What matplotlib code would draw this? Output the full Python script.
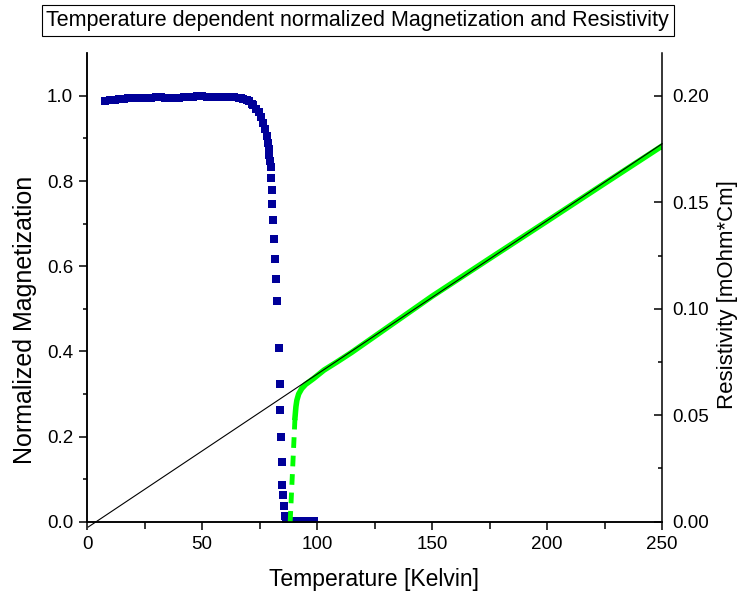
import numpy as np
import matplotlib
matplotlib.use("Agg")
import matplotlib.pyplot as plt

plt.rcParams['font.family'] = ['Liberation Sans', 'DejaVu Sans']

# normalized magnetization vs temperature
temp_mag = [8, 10, 12, 14, 16, 18, 20, 22, 24, 26, 28, 30, 32, 34, 36, 38, 40,
            42, 44, 46, 48, 50, 52, 54, 56, 58, 60, 62, 64, 66,
            67, 68, 69.4, 70.5, 71.5, 72.3, 73.5, 74.8, 75.8, 76.7, 77.5,
            78.1, 78.6, 79.0, 79.3, 79.6, 79.8,
            80.0, 80.3, 80.6, 81.0, 81.4, 81.9, 82.3, 82.7, 83.3, 83.8, 84.0,
            84.3, 84.6, 84.9, 85.2, 85.7, 86.1,
            86.5, 87.5, 88.5, 89.5, 90.5, 91.5, 92.5, 93.5, 94.5, 95.5, 96.5,
            97.5, 98.5]
magnetization = [0.989, 0.990, 0.991, 0.992, 0.993, 0.994, 0.995, 0.996, 0.996,
                 0.995, 0.996, 0.997, 0.997, 0.996, 0.996, 0.995, 0.996, 0.997,
                 0.997, 0.998, 0.999, 0.999, 0.998, 0.998, 0.997, 0.997, 0.998,
                 0.998, 0.997, 0.996,
                 0.995, 0.993, 0.991, 0.987, 0.982, 0.978, 0.970, 0.961, 0.950,
                 0.937, 0.922, 0.906, 0.890, 0.875, 0.862, 0.847, 0.832,
                 0.808, 0.779, 0.745, 0.708, 0.663, 0.616, 0.569, 0.518, 0.408,
                 0.323, 0.263, 0.200, 0.141, 0.086, 0.063, 0.037, 0.013,
                 0.002, 0.002, 0.002, 0.002, 0.002, 0.002, 0.002, 0.002, 0.002,
                 0.002, 0.002, 0.002, 0.002]

# resistivity: superconducting transition and normal state
temp_trans = [88.3, 88.6, 88.9, 89.2, 89.5, 89.8, 90.1, 90.4]
res_trans = [0.000, 0.007, 0.014, 0.021, 0.028, 0.035, 0.042, 0.049]
temp_res = [90.4, 90.8, 91.2, 92.0, 93.3, 95.0, 98.4, 103.0, 108.6, 115.0,
            128.8, 150.0, 175.0, 200.0, 225.0, 250.0]
resistivity = [0.049, 0.054, 0.057, 0.060, 0.0625, 0.0645, 0.0672, 0.0712,
               0.0750, 0.0795, 0.0899, 0.1059, 0.1236, 0.1412, 0.1589, 0.1765]

# linear fit of the normal state
fit_temp = [0.5, 250]
fit_res = [-0.0025, 0.1775]

fig = plt.figure(figsize=(7.44, 5.94), dpi=100)
ax = fig.add_axes([0.117, 0.1217, 0.773, 0.7886])
ax2 = ax.twinx()

ax.plot(temp_mag, magnetization, 's', color='#000099', ms=5.8, mew=0)
ax2.plot(temp_res, resistivity, '-', color='#00ff00', lw=4)
ax2.plot(temp_trans, res_trans, '-', color='#00ff00', lw=3.5, dashes=(2.2, 1.6))
ax2.plot(fit_temp, fit_res, '-', color='black', lw=0.8, clip_on=False)

ax.set_xlim(0, 250)
ax.set_ylim(0, 1.1)
ax2.set_ylim(0, 0.22)

ax.set_xticks([0, 50, 100, 150, 200, 250])
ax.set_xticks([25, 75, 125, 175, 225], minor=True)
ax.set_yticks([0.0, 0.2, 0.4, 0.6, 0.8, 1.0])
ax.set_yticks([0.1, 0.3, 0.5, 0.7, 0.9], minor=True)
ax.set_yticklabels(['0.0', '0.2', '0.4', '0.6', '0.8', '1.0'])
ax2.set_yticks([0.0, 0.05, 0.10, 0.15, 0.20])
ax2.set_yticks([0.025, 0.075, 0.125, 0.175], minor=True)
ax2.set_yticklabels(['0.00', '0.05', '0.10', '0.15', '0.20'])

for a in (ax, ax2):
    a.spines['top'].set_visible(False)
    for s in a.spines.values():
        s.set_linewidth(1.1)
ax.spines['right'].set_visible(False)

ax.tick_params(axis='both', which='major', direction='out', length=6, width=1.1,
               labelsize=13.5, pad=4)
ax.tick_params(axis='y', which='minor', direction='out', length=3, width=1.1)
ax.tick_params(axis='x', which='minor', direction='out', length=5, width=1.1)
ax2.tick_params(axis='y', which='major', direction='in', length=6, width=1.1,
                labelsize=13.5, pad=7)
ax2.tick_params(axis='y', which='minor', direction='in', length=3, width=1.1)

ax.set_xlabel('Temperature [Kelvin]', fontsize=16.5)
ax.set_ylabel('Normalized Magnetization', fontsize=18)
ax2.set_ylabel('Resistivity [mOhm*Cm]', fontsize=16)
ax.xaxis.set_label_coords(0.4995, -0.124)
ax.yaxis.set_label_coords(-0.108, 0.43)
ax2.yaxis.set_label_coords(1.114, 0.484)
ax.xaxis.label.set_va('center')
ax.yaxis.label.set_va('center')
ax2.yaxis.label.set_va('center')

fig.text(0.481, 0.9655, 'Temperature dependent normalized Magnetization and Resistivity',
         ha='center', va='center', fontsize=15.5,
         bbox=dict(boxstyle='square,pad=0.22', fc='white', ec='black', lw=0.8))

fig.savefig('out.png', dpi=100)
